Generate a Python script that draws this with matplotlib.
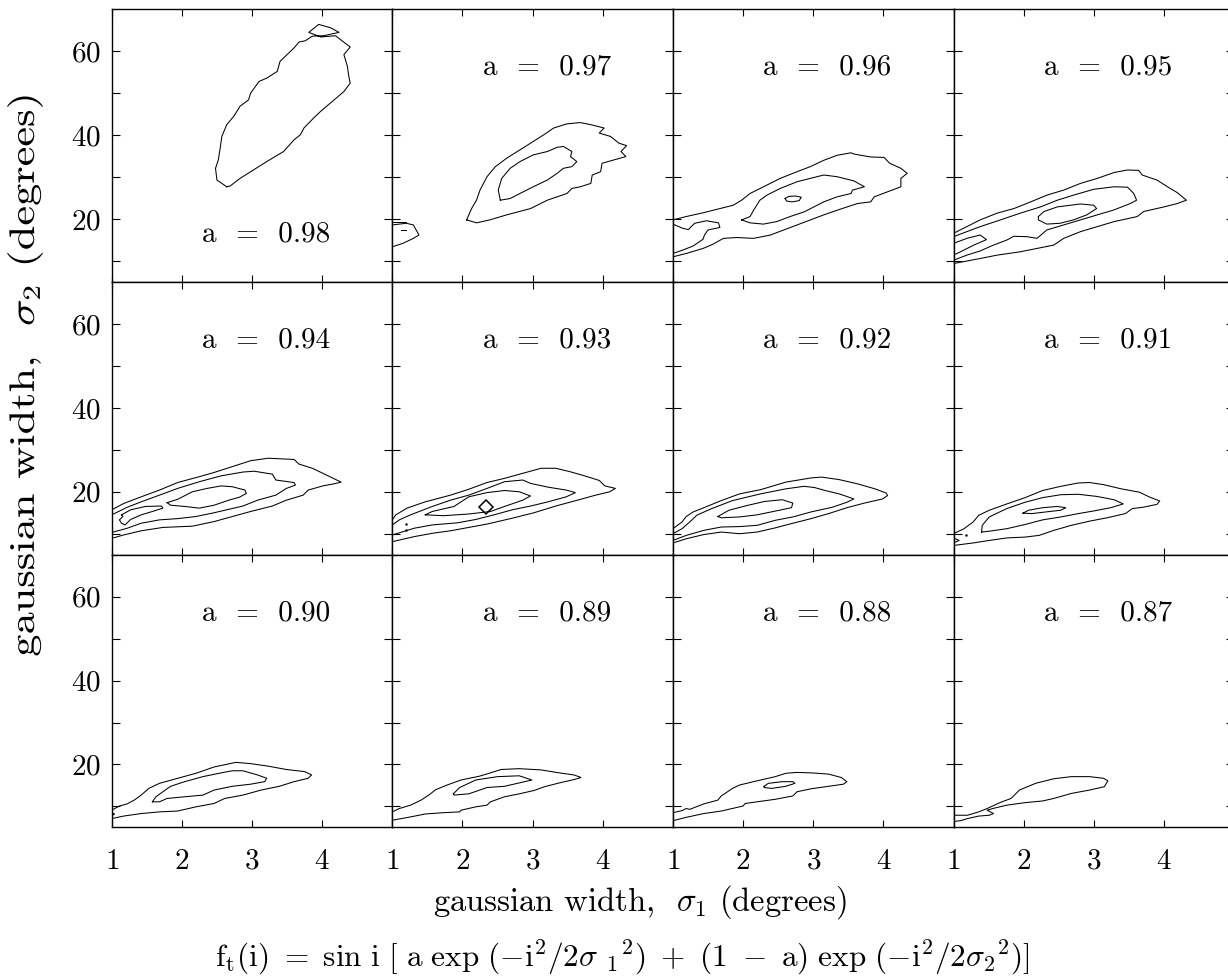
import matplotlib
matplotlib.use("Agg")
import matplotlib.pyplot as plt
from matplotlib.textpath import TextPath
from matplotlib.patches import PathPatch
from matplotlib.font_manager import FontProperties
from matplotlib.transforms import Affine2D

plt.rcParams["font.family"] = "serif"
plt.rcParams["font.serif"] = ["cmr10"]
plt.rcParams["mathtext.fontset"] = "cm"
plt.rcParams["axes.formatter.use_mathtext"] = True

# mixing parameter a for each panel (row by row)
a_values = ["0.98", "0.97", "0.96", "0.95",
            "0.94", "0.93", "0.92", "0.91",
            "0.90", "0.89", "0.88", "0.87"]

# contour lines: (sigma1 values, sigma2 values)
c098 = [
    ([2.64, 2.5, 2.48, 2.52, 2.55, 2.57, 2.64, 2.74, 2.83, 2.95, 2.98, 3.1, 3.21, 3.36, 3.4,
      3.5, 3.6, 3.67, 3.76, 3.86, 4.02, 4.24, 4.12, 3.95, 3.81, 3.98, 4.19, 4.4, 4.31, 4.36,
      4.38, 4.4, 4.31, 4.17, 3.98, 3.88, 3.74, 3.69, 3.6, 3.45, 3.21, 3.02, 2.83, 2.69, 2.64],
     [27.7, 29.3, 32.1, 34.1, 37.3, 39.7, 42.5, 44.5, 46.9, 48.4, 50.0, 52.8, 53.6, 55.2, 57.6,
      59.2, 60.8, 62.2, 62.5, 63.6, 63.7, 64.5, 65.6, 66.4, 64.5, 63.4, 63.7, 61.0, 59.2, 56.4,
      54.0, 52.4, 50.4, 48.4, 45.7, 44.1, 41.7, 40.1, 38.9, 36.1, 33.7, 31.7, 29.7, 27.9, 27.7]),
]
c097 = [
    ([2.06, 2.13, 2.2, 2.25, 2.35, 2.47, 2.63, 2.82, 3.01, 3.16, 3.3, 3.49, 3.68, 3.83, 4.02,
      3.95, 4.11, 4.23, 4.34, 4.26, 4.33, 4.16, 3.99, 3.97, 3.85, 3.83, 3.68, 3.56, 3.49, 3.21,
      2.97, 2.63, 2.39, 2.2, 2.06],
     [19.8, 22.5, 24.5, 26.9, 30.1, 32.5, 34.5, 36.5, 38.5, 40.1, 41.7, 42.7, 43.0, 42.5, 41.7,
      40.5, 39.7, 38.1, 37.5, 36.1, 34.9, 34.1, 33.3, 31.3, 30.5, 28.5, 27.7, 27.3, 26.1, 24.5,
      22.5, 21.0, 19.8, 19.1, 19.8]),
    ([2.54, 2.51, 2.56, 2.68, 2.82, 3.01, 3.21, 3.35, 3.44, 3.56, 3.54, 3.63, 3.56, 3.44, 3.35,
      3.21, 3.01, 2.82, 2.68, 2.54],
     [24.5, 26.9, 29.7, 32.1, 33.7, 35.3, 36.1, 37.1, 37.3, 36.1, 34.9, 33.7, 32.5, 32.1, 30.9,
      29.3, 27.7, 26.1, 24.9, 24.5]),
    ([1.0, 1.2, 1.3, 1.38, 1.3, 1.15, 1.0],
     [18.6, 19.0, 18.6, 16.2, 15.4, 14.2, 13.4]),
    ([1.0, 1.2], [19.3, 19.3]),
    ([1.13, 1.2], [17.4, 17.4]),
]
c096 = [
    ([1.0, 1.19, 1.43, 1.67, 1.86, 1.98, 2.1, 2.34, 2.53, 2.77, 2.96, 3.15, 3.34, 3.54, 3.58,
      3.82, 4.01, 4.09, 4.25, 4.34, 4.25, 4.25, 4.06, 3.87, 3.82, 3.63, 3.34, 3.15, 2.96, 2.77,
      2.58, 2.39, 2.15, 1.91, 1.72, 1.57, 1.43, 1.19, 1.0],
     [19.8, 20.6, 21.5, 22.5, 23.3, 24.5, 26.1, 28.1, 29.7, 31.3, 32.5, 34.0, 35.2, 35.8, 35.5,
      34.8, 34.7, 33.3, 32.1, 30.9, 29.7, 27.7, 26.5, 25.3, 24.1, 23.7, 22.1, 21.0, 19.8, 18.6,
      17.4, 16.2, 15.4, 15.6, 15.4, 14.0, 13.0, 11.8, 11.0]),
    ([1.0, 1.14, 1.22, 1.31, 1.48, 1.65, 1.67, 1.5, 1.45, 1.43, 1.29, 1.14, 1.0],
     [18.8, 17.8, 17.5, 19.0, 19.6, 19.1, 18.0, 17.4, 16.2, 15.2, 13.6, 12.6, 11.8]),
    ([1.98, 2.1, 2.15, 2.24, 2.34, 2.53, 2.77, 2.96, 3.15, 3.34, 3.58, 3.73, 3.56, 3.54, 3.34,
      3.15, 3.01, 2.87, 2.67, 2.48, 2.29, 2.1, 1.98],
     [19.8, 20.6, 22.1, 24.5, 25.7, 27.3, 28.9, 29.7, 30.5, 30.1, 29.1, 27.7, 26.9, 26.1, 25.3,
      24.1, 22.9, 21.7, 20.6, 19.4, 18.8, 19.1, 19.8]),
    ([2.6, 2.65, 2.75, 2.83, 2.8, 2.7, 2.62, 2.6],
     [24.9, 25.4, 25.5, 25.2, 24.4, 24.1, 24.3, 24.9]),
]
c095 = [
    ([1.0, 1.19, 1.38, 1.62, 1.86, 2.1, 2.33, 2.57, 2.81, 3.05, 3.29, 3.48, 3.64, 3.69, 3.9,
      4.05, 4.19, 4.32, 4.19, 4.0, 3.71, 3.62, 3.29, 3.05, 2.81, 2.57, 2.43, 2.19, 1.95, 1.62,
      1.38, 1.19, 1.0],
     [16.6, 18.2, 19.8, 21.4, 22.5, 24.1, 25.7, 26.9, 28.5, 29.7, 31.1, 31.7, 31.6, 30.5, 29.3,
      27.7, 26.3, 24.5, 23.7, 22.9, 21.8, 20.6, 19.4, 18.2, 17.0, 15.4, 13.8, 13.0, 12.2, 11.4,
      10.6, 10.0, 9.4]),
    ([1.0, 1.19, 1.38, 1.67, 1.95, 2.24, 2.48, 2.71, 3.0, 3.29, 3.48, 3.57, 3.61, 3.52, 3.29,
      3.05, 2.81, 2.57, 2.33, 2.19, 2.05, 1.86, 1.76, 1.57, 1.38, 1.19, 1.0],
     [15.8, 17.0, 18.2, 19.8, 21.4, 22.9, 24.5, 25.7, 27.1, 27.7, 27.6, 26.1, 24.5, 23.7, 22.2,
      21.0, 19.8, 18.6, 17.4, 15.4, 15.8, 15.9, 15.0, 13.8, 12.4, 11.4, 10.2]),
    ([1.0, 1.19, 1.38, 1.47, 1.29, 1.1, 1.0],
     [14.2, 15.4, 16.2, 15.1, 13.8, 12.2, 11.4]),
    ([2.21, 2.29, 2.48, 2.81, 3.0, 3.04, 2.9, 2.71, 2.52, 2.33, 2.21, 2.21],
     [20.6, 21.8, 22.9, 23.6, 23.3, 22.5, 21.0, 19.8, 19.0, 18.8, 19.8, 20.6]),
]
c094 = [
    ([1.0, 1.17, 1.42, 1.68, 1.94, 2.25, 2.46, 2.72, 2.98, 3.23, 3.6, 3.67, 3.86, 4.06, 4.27,
      4.17, 4.01, 3.8, 3.73, 3.49, 3.29, 2.98, 2.72, 2.46, 2.15, 1.73, 1.42, 1.17, 1.0],
     [15.7, 17.2, 18.8, 20.4, 22.2, 23.6, 24.6, 26.0, 27.4, 28.0, 27.7, 26.6, 25.6, 24.0, 22.3,
      21.9, 21.4, 20.4, 19.2, 18.0, 16.6, 15.3, 14.1, 12.9, 11.8, 11.5, 10.7, 9.7, 8.9]),
    ([1.0, 1.22, 1.42, 1.73, 1.94, 2.25, 2.56, 2.87, 3.03, 3.29, 3.34, 3.6, 3.62, 3.49, 3.34,
      3.08, 2.87, 2.46, 2.2, 1.94, 1.68, 1.42, 1.22, 1.0],
     [14.5, 16.3, 17.6, 19.5, 20.8, 22.4, 23.8, 24.7, 24.9, 24.2, 22.8, 22.2, 21.6, 20.8, 19.2,
      18.0, 16.6, 15.0, 14.1, 13.6, 13.3, 12.5, 11.3, 10.3]),
    ([1.79, 1.94, 2.15, 2.36, 2.56, 2.72, 2.9, 2.92, 2.82, 2.67, 2.46, 2.25, 2.04, 1.84, 1.79],
     [17.4, 18.2, 20.0, 20.8, 21.4, 21.2, 20.4, 19.6, 18.7, 18.0, 16.8, 16.1, 16.5, 16.8, 17.4]),
    ([1.14, 1.27, 1.48, 1.71, 1.73, 1.58, 1.42, 1.27, 1.19, 1.14, 1.11, 1.16, 1.14],
     [14.5, 15.7, 16.5, 16.6, 16.1, 15.3, 14.5, 13.4, 12.1, 12.5, 13.3, 14.1, 14.5]),
]
c093 = [
    ([1.0, 1.05, 1.21, 1.47, 1.83, 2.09, 2.35, 2.6, 2.86, 3.12, 3.33, 3.53, 3.74, 3.95, 4.03,
      4.18, 4.1, 3.9, 3.64, 3.33, 3.02, 2.71, 2.35, 2.09, 1.83, 1.57, 1.31, 1.0],
     [13.3, 14.5, 16.1, 17.6, 19.2, 20.6, 22.2, 23.2, 24.4, 25.6, 25.6, 24.8, 23.8, 22.7, 21.4,
      20.8, 20.0, 19.2, 18.0, 16.6, 15.0, 13.7, 12.3, 11.5, 10.7, 10.1, 9.3, 8.1]),
    ([1.0, 1.1, 1.26, 1.57, 1.83, 2.09, 2.35, 2.6, 2.86, 2.97, 3.22, 3.48, 3.61, 3.48, 3.22,
      2.97, 2.71, 2.45, 2.19, 1.93, 1.57, 1.31, 1.0],
     [12.1, 13.3, 14.5, 16.5, 18.0, 19.2, 20.8, 22.4, 22.8, 22.0, 21.1, 20.4, 19.8, 18.8, 17.6,
      16.6, 15.7, 14.5, 13.4, 12.6, 12.1, 11.3, 9.7]),
    ([1.47, 1.57, 1.88, 2.09, 2.35, 2.6, 2.81, 2.97, 2.86, 2.6, 2.4, 2.09, 1.73, 1.47],
     [14.5, 15.3, 16.5, 18.8, 19.8, 20.3, 20.0, 19.0, 18.0, 16.5, 15.3, 14.7, 14.3, 14.5]),
]
c092 = [
    ([1.0, 1.13, 1.19, 1.29, 1.44, 1.69, 1.95, 2.25, 2.61, 2.97, 3.12, 3.37, 3.63, 3.88, 4.04,
      4.06, 3.99, 3.73, 3.48, 3.22, 2.97, 2.71, 2.46, 2.2, 1.95, 1.69, 1.44, 1.19, 1.0],
     [11.2, 12.8, 14.1, 15.2, 16.2, 17.9, 19.5, 20.5, 22.3, 23.3, 23.5, 22.9, 21.9, 20.7, 19.7,
      19.1, 18.3, 17.3, 16.2, 14.8, 13.6, 12.5, 11.4, 10.4, 10.0, 10.4, 9.8, 8.8, 7.8]),
    ([1.0, 1.13, 1.24, 1.34, 1.54, 1.85, 2.25, 2.61, 2.87, 3.02, 3.17, 3.37, 3.58, 3.48, 3.27,
      2.97, 2.71, 2.46, 2.2, 1.95, 1.69, 1.44, 1.19, 1.0],
     [10.0, 11.2, 12.8, 14.4, 15.9, 17.9, 19.5, 20.7, 21.3, 21.0, 20.3, 19.5, 18.3, 17.5, 16.3,
      15.2, 14.0, 13.2, 12.0, 11.7, 11.6, 10.8, 9.6, 8.4]),
    ([1.64, 1.8, 2.05, 2.31, 2.56, 2.71, 2.69, 2.46, 2.2, 1.95, 1.69, 1.64],
     [14.1, 15.6, 16.7, 17.7, 18.1, 17.3, 16.2, 15.4, 14.5, 14.0, 13.8, 14.1]),
]
c091 = [
    ([1.0, 1.15, 1.28, 1.36, 1.51, 1.76, 2.02, 2.27, 2.53, 2.78, 2.94, 3.14, 3.39, 3.65, 3.8,
      3.94, 3.9, 3.7, 3.55, 3.45, 3.19, 2.94, 2.68, 2.43, 2.22, 2.02, 1.76, 1.51, 1.28, 1.0],
     [10.0, 11.2, 12.8, 14.4, 15.6, 17.1, 18.6, 20.3, 21.3, 22.1, 22.2, 21.7, 20.7, 19.9, 18.7,
      17.8, 17.0, 16.3, 16.0, 14.8, 13.8, 13.0, 12.0, 10.8, 9.6, 9.2, 9.0, 8.4, 7.8, 7.2]),
    ([1.4, 1.41, 1.51, 1.76, 2.02, 2.27, 2.53, 2.78, 3.04, 3.29, 3.42, 3.24, 2.99, 2.78, 2.53,
      2.27, 2.02, 1.76, 1.51, 1.4],
     [10.4, 12.0, 14.0, 16.0, 17.5, 18.6, 19.3, 19.4, 18.9, 18.1, 17.1, 16.2, 15.4, 14.8, 14.0,
      13.3, 12.2, 11.2, 10.6, 10.4]),
    ([1.99, 2.07, 2.27, 2.48, 2.6, 2.53, 2.32, 2.12, 1.99],
     [14.9, 15.6, 16.2, 16.5, 16.2, 15.6, 15.2, 14.8, 14.9]),
    ([1.0, 1.08, 1.0], [9.0, 8.4, 7.8]),
]
c090 = [
    ([1.0, 1.11, 1.22, 1.32, 1.42, 1.53, 1.68, 1.94, 2.2, 2.46, 2.77, 2.98, 3.23, 3.49, 3.75,
      3.85, 3.8, 3.6, 3.39, 3.13, 2.87, 2.61, 2.46, 2.2, 1.94, 1.68, 1.42, 1.17, 1.0],
     [9.1, 10.1, 10.6, 11.5, 12.7, 14.3, 15.5, 16.7, 17.9, 19.4, 20.5, 20.2, 19.6, 18.8, 18.3,
      17.5, 16.7, 15.9, 14.8, 13.9, 12.7, 11.9, 10.7, 9.9, 8.9, 8.7, 8.3, 7.7, 7.1]),
    ([1.58, 1.63, 1.73, 1.84, 2.04, 2.3, 2.56, 2.72, 2.87, 3.08, 3.21, 3.18, 2.98, 2.72, 2.46,
      2.3, 2.04, 1.79, 1.68, 1.58],
     [11.1, 12.3, 13.5, 14.8, 15.9, 17.1, 18.0, 18.5, 18.5, 17.5, 16.7, 15.9, 15.3, 14.8, 13.9,
      12.7, 12.3, 11.9, 11.1, 11.1]),
    ([1.0, 1.04, 1.0], [8.5, 8.2, 7.7]),
]
c089 = [
    ([1.0, 1.1, 1.26, 1.41, 1.52, 1.62, 1.78, 1.98, 2.24, 2.4, 2.55, 2.81, 3.12, 3.38, 3.59,
      3.69, 3.59, 3.38, 3.17, 3.02, 2.81, 2.6, 2.4, 2.35, 2.19, 1.98, 1.96, 1.72, 1.47, 1.26, 1.0],
     [8.7, 9.5, 10.3, 11.5, 12.7, 14.0, 15.1, 16.3, 17.2, 18.0, 18.8, 19.0, 18.7, 18.0, 17.5,
      16.9, 16.4, 15.6, 14.7, 13.8, 13.0, 12.3, 11.1, 10.3, 9.9, 9.1, 8.7, 8.5, 8.2, 7.5, 6.7]),
    ([1.87, 1.96, 2.19, 2.5, 2.81, 2.99, 2.6, 2.35, 2.09, 1.88, 1.87],
     [13.0, 14.5, 16.3, 17.1, 17.3, 16.3, 14.8, 14.5, 13.0, 12.7, 13.0]),
]
c088 = [
    ([1.0, 1.13, 1.19, 1.24, 1.44, 1.64, 1.69, 1.85, 1.95, 2.2, 2.46, 2.61, 2.77, 2.97, 3.22,
      3.4, 3.48, 3.43, 3.22, 2.97, 2.77, 2.71, 2.46, 2.2, 2.03, 2.0, 1.69, 1.44, 1.19, 1.0],
     [8.5, 9.0, 9.5, 9.3, 10.6, 11.5, 12.5, 14.3, 15.1, 16.1, 17.1, 17.9, 18.1, 18.0, 17.7,
      16.9, 15.9, 15.3, 14.8, 14.2, 13.5, 12.5, 11.7, 11.1, 10.7, 10.1, 8.9, 8.3, 7.4, 6.6]),
    ([2.3, 2.36, 2.56, 2.71, 2.74, 2.61, 2.41, 2.3, 2.3],
     [14.8, 15.5, 15.9, 15.9, 15.5, 14.8, 14.3, 14.5, 14.8]),
]
c087 = [
    ([1.0, 1.2, 1.36, 1.48, 1.66, 1.82, 1.94, 2.17, 2.43, 2.68, 2.94, 3.14, 3.2, 3.15, 2.94,
      2.68, 2.43, 2.27, 2.02, 1.76, 1.56, 1.48, 1.57, 1.51, 1.36, 1.2, 1.1, 1.0],
     [7.9, 7.9, 8.7, 9.5, 10.9, 11.9, 13.9, 15.5, 16.6, 17.1, 17.1, 16.7, 16.1, 14.7, 13.9,
      13.1, 11.9, 11.3, 10.9, 10.3, 9.5, 9.1, 8.3, 7.9, 7.7, 7.1, 6.6, 6.4]),
]

# best-fit marker in the a = 0.93 panel and stray contour dots
best_fit = (2.33, 16.3)
dots_093 = ([1.2, 1.2], [12.3, 11.0])
dots_091 = ([1.18], [9.8])

panels = [c098, c097, c096, c095, c094, c093, c092, c091, c090, c089, c088, c087]

W, H = 1228, 977
left0, top0 = 111.7, 9.3
pw, ph = 280.6, 272.7
fs = 21

fig = plt.figure(figsize=(W / 100, H / 100), dpi=100)

for i, (label, contours) in enumerate(zip(a_values, panels)):
    r, c = divmod(i, 4)
    ax = fig.add_axes([(left0 + c * pw) / W, 1 - (top0 + (r + 1) * ph) / H, pw / W, ph / H])
    for xs, ys in contours:
        ax.plot(xs, ys, color="black", lw=0.75, solid_joinstyle="round")

    if label == "0.93":
        ax.plot([best_fit[0]], [best_fit[1]], marker="D", ms=7, mfc="none",
                mec="black", mew=1.1)
        ax.plot(*dots_093, ".", color="black", ms=1.5)
    if label == "0.91":
        ax.plot(*dots_091, ".", color="black", ms=1.5)

    ty = 14.6 if label == "0.98" else 54.4
    ax.text(3.2, ty, "a  =  " + label, ha="center", va="baseline", fontsize=fs)

    ax.set_xlim(1, 5)
    ax.set_ylim(5, 70)
    ax.set_xticks([1, 2, 3, 4])
    ax.set_yticks([20, 40, 60])
    ax.set_yticks([10, 30, 50], minor=True)
    ax.tick_params(axis="x", which="both", direction="in", top=True, bottom=True,
                   length=5, width=0.8, labelsize=fs, pad=15)
    ax.tick_params(axis="y", which="both", direction="in", left=True, right=True,
                   length=6, width=0.8, labelsize=fs, pad=8)
    for s in ax.spines.values():
        s.set_linewidth(1.0)
    if c != 0:
        ax.tick_params(axis="y", labelleft=False)
    if r != 2:
        ax.tick_params(axis="x", labelbottom=False)

fig.text(640 / W, 1 - 902 / H, r"gaussian width,  $\sigma_1$ (degrees)",
         ha="center", va="center", fontsize=23.5)

# the y label runs longer than the x label in the original, so stretch it a little
ylab = TextPath((0, 0), r"gaussian width,  $\sigma_2$ (degrees)", size=25.5 * 100 / 72,
                prop=FontProperties(family="serif"))
bb = ylab.get_extents()
ytr = (Affine2D()
       .translate(-(bb.x0 + bb.x1) / 2, -(bb.y0 + bb.y1) / 2)
       .scale(559 / bb.width, 1.0)
       .rotate_deg(90)
       .translate(25, H - 376))
fig.add_artist(PathPatch(ylab, transform=ytr, facecolor="black", edgecolor="none"))

fig.text(622 / W, 1 - 957 / H,
         r"$\mathrm{f_t(i)\ =\ sin\ i\ [\ a\ exp\ (-i^2/2\sigma\ {}_1{}^2)\ +\ "
         r"(1\ -\ a)\ exp\ (-i^2/2\sigma_2{}^2)]}$",
         ha="center", va="center", fontsize=22.5)

fig.savefig("out.png", dpi=100)
